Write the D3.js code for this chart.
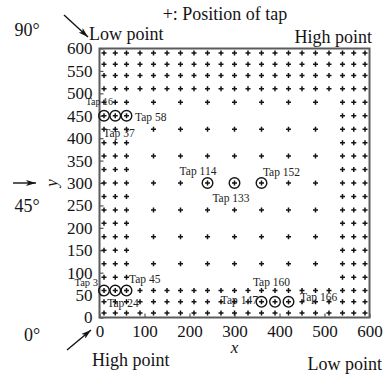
<!DOCTYPE html>
<html>
<head>
<meta charset="utf-8">
<script src="https://cdn.jsdelivr.net/npm/d3@7"></script>
<style>
  html, body { margin: 0; padding: 0; background: #fff; }
  svg { display: block; font-family: "Liberation Serif", "Times New Roman", serif; }
</style>
</head>
<body>
<svg id="chart" width="387" height="377"></svg>
<script>
// Tap coordinates (units) on the square plate
const allCols = [10, 35, 60, 90, 120, 150, 180, 210, 240, 270, 300, 330, 360, 390, 420, 450, 480, 510, 540, 565, 590];
const sparseCols = [10, 35, 60, 120, 180, 240, 300, 360, 420, 480, 540, 565, 590];
const edgeCols = [10, 35, 60, 540, 565, 590];
const fullRows = [10, 35, 60, 510, 540, 565, 590];
const sparseRows = [120, 180, 240, 300, 360, 420, 480];
const edgeRows = [90, 150, 210, 270, 330, 390, 450];

// Highlighted taps (circled) with their numbers
const markedTaps = [3, 24, 45, 16, 37, 58, 114, 133, 152, 147, 160, 166];
const markedX = [10, 35, 60, 10, 35, 60, 240, 300, 360, 360, 390, 420];
const markedY = [60, 60, 60, 450, 450, 450, 300, 300, 300, 35, 35, 35];

const xTicks = [0, 100, 200, 300, 400, 500, 600];
const yTicks = [0, 50, 100, 150, 200, 250, 300, 350, 400, 450, 500, 550, 600];

// Label placement around each circled tap: [dx, dy, anchor, size]
const labelLayout = {
  3: [-6, -5, "end", 10.5],
  24: [-8, 16.5, "start", 11.5],
  45: [2.5, -7.5, "start", 11.5],
  16: [9, -11, "end", 10],
  37: [-12, 21, "start", 11.5],
  58: [8.5, 5, "start", 11.5],
  114: [-9.5, -8, "middle", 11.5],
  133: [-3.5, 19, "middle", 11.5],
  152: [20, -7, "middle", 11.5],
  147: [-3.5, 2, "end", 11.5],
  160: [-3.5, -16, "middle", 11.5],
  166: [11.5, -1, "start", 11.5]
};

const taps = [];
fullRows.forEach(r => allCols.forEach(c => taps.push([c, r])));
sparseRows.forEach(r => sparseCols.forEach(c => taps.push([c, r])));
edgeRows.forEach(r => edgeCols.forEach(c => taps.push([c, r])));

const svg = d3.select("#chart");
const ink = "#141414";
const frame = { left: 99.5, right: 369.5, top: 48.5, bottom: 317.5 };

const x = d3.scaleLinear().domain([0, 600]).range([frame.left, frame.right]);
const y = d3.scaleLinear().domain([0, 600]).range([frame.bottom, frame.top]);

// Arrow head marker
const defs = svg.append("defs");
defs.append("marker")
  .attr("id", "head")
  .attr("viewBox", "0 0 10 6")
  .attr("refX", 10).attr("refY", 3)
  .attr("markerWidth", 10).attr("markerHeight", 6)
  .attr("markerUnits", "userSpaceOnUse")
  .attr("orient", "auto")
  .append("path").attr("d", "M0,0 L10,3 L0,6 L2.5,3 Z").attr("fill", ink);

// Axes with inward ticks
const yAxis = svg.append("g")
  .attr("transform", `translate(${frame.left},0)`)
  .call(d3.axisLeft(y).tickValues(yTicks).tickSize(-4).tickPadding(7).tickFormat(d3.format("d")));
const xAxis = svg.append("g")
  .attr("transform", `translate(0,${frame.bottom})`)
  .call(d3.axisBottom(x).tickValues(xTicks).tickSize(-4).tickPadding(7).tickFormat(d3.format("d")));

[yAxis, xAxis].forEach(g => {
  g.select(".domain").remove();
  g.selectAll(".tick line").attr("stroke", "#555").attr("stroke-width", 1.2);
  g.selectAll(".tick text")
    .attr("fill", ink)
    .style("font-family", "Liberation Serif, serif")
    .style("font-size", "17px");
});

// Plot frame
svg.append("rect")
  .attr("x", frame.left).attr("y", frame.top)
  .attr("width", frame.right - frame.left).attr("height", frame.bottom - frame.top)
  .attr("fill", "none").attr("stroke", "#5c5c5c").attr("stroke-width", 2);

// Tap positions as plus signs
const arm = 2.5;
svg.append("g").selectAll("path")
  .data(taps)
  .join("path")
  .attr("d", d => {
    const cx = x(d[0]), cy = y(d[1]);
    return `M${cx - arm},${cy}H${cx + arm}M${cx},${cy - arm}V${cy + arm}`;
  })
  .attr("stroke", ink).attr("stroke-width", 1.5).attr("fill", "none");

// Circled taps
const marked = markedTaps.map((t, i) => ({ tap: t, cx: markedX[i], cy: markedY[i] }));
svg.append("g").selectAll("circle")
  .data(marked)
  .join("circle")
  .attr("cx", d => x(d.cx)).attr("cy", d => y(d.cy))
  .attr("r", 5.3)
  .attr("fill", "none").attr("stroke", ink).attr("stroke-width", 1.4);

svg.append("g").selectAll("text")
  .data(marked)
  .join("text")
  .attr("x", d => x(d.cx) + labelLayout[d.tap][0])
  .attr("y", d => y(d.cy) + labelLayout[d.tap][1])
  .attr("text-anchor", d => labelLayout[d.tap][2])
  .style("font-size", d => labelLayout[d.tap][3] + "px")
  .attr("fill", "#222")
  .text(d => "Tap " + d.tap);

// Axis titles
svg.append("text")
  .attr("x", x(300)).attr("y", 353)
  .attr("text-anchor", "middle")
  .style("font-size", "17px").style("font-style", "italic")
  .attr("fill", ink).text("x");
svg.append("text")
  .attr("transform", `translate(57,${y(300)}) rotate(-90)`)
  .attr("text-anchor", "middle")
  .style("font-size", "17px").style("font-style", "italic")
  .attr("fill", ink).text("y");

// Annotations
const notes = [
  { t: "+: Position of tap", x: 225, y: 20, a: "middle" },
  { t: "Low point", x: 89, y: 40, a: "start" },
  { t: "High point", x: 372, y: 43, a: "end" },
  { t: "High point", x: 92, y: 366, a: "start" },
  { t: "Low point", x: 382, y: 370, a: "end" },
  { t: "90°", x: 27, y: 36, a: "middle" },
  { t: "45°", x: 27, y: 212, a: "middle" },
  { t: "0°", x: 32, y: 341, a: "middle" }
];
svg.append("g").selectAll("text")
  .data(notes)
  .join("text")
  .attr("x", d => d.x).attr("y", d => d.y)
  .attr("text-anchor", d => d.a)
  .style("font-size", "18px")
  .attr("fill", ink)
  .text(d => d.t);

// Direction arrows
const arrows = [
  [64, 15, 88, 37],
  [13, 183, 36, 183],
  [67, 350, 91, 330]
];
svg.append("g").selectAll("line")
  .data(arrows)
  .join("line")
  .attr("x1", d => d[0]).attr("y1", d => d[1])
  .attr("x2", d => d[2]).attr("y2", d => d[3])
  .attr("stroke", ink).attr("stroke-width", 1.4)
  .attr("marker-end", "url(#head)");
</script>
</body>
</html>
